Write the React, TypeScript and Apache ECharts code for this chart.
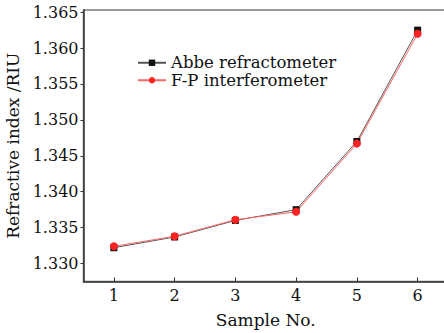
import { useEffect, useRef } from "react";
import * as echarts from "echarts";

const samples = [1, 2, 3, 4, 5, 6];
const abbe = [1.3322, 1.3337, 1.336, 1.3375, 1.347, 1.3625];
const fp = [1.3324, 1.3338, 1.3361, 1.3372, 1.3467, 1.362];
const yTicks = [1.33, 1.335, 1.34, 1.345, 1.35, 1.355, 1.36, 1.365];
const xTicks = [1, 2, 3, 4, 5, 6];

const FONT = "DejaVu Serif";

export default function App() {
  const ref = useRef<HTMLDivElement>(null);
  useEffect(() => {
    document.body.style.margin = "0";
    const chart = echarts.init(ref.current!, null, { renderer: "svg" });
    chart.setOption({
      animation: false,
      backgroundColor: "#ffffff",
      textStyle: { fontFamily: FONT },
      grid: {
        left: 83.5,
        right: 4,
        top: 10,
        bottom: 333 - 281.5,
        show: true,
        borderColor: "#777",
        borderWidth: 1.5,
        backgroundColor: "transparent",
        outerBoundsMode: "none",
        containLabel: false,
      },
      legend: {
        orient: "vertical",
        left: 132,
        top: 49,
        itemWidth: 28,
        itemHeight: 8,
        itemGap: 0,
        textStyle: { fontFamily: FONT, fontSize: 16.5, color: "#111", lineHeight: 17.5 },
        data: ["Abbe refractometer", "F-P interferometer"],
      },
      xAxis: {
        type: "value",
        min: 0.5,
        max: 6.5,
        name: "Sample No.",
        nameLocation: "middle",
        nameGap: 30,
        nameTextStyle: { fontFamily: FONT, fontSize: 17, color: "#111" },
        axisLine: { lineStyle: { color: "#333", width: 1.5 } },
        axisTick: { inside: true, length: 4, customValues: xTicks, lineStyle: { color: "#333" } },
        axisLabel: {
          customValues: xTicks,
          fontFamily: FONT,
          fontSize: 16,
          color: "#111",
          margin: 6,
          formatter: (v: number) => String(v),
        },
        splitLine: { show: false },
      },
      yAxis: {
        type: "value",
        min: 1.3275,
        max: 1.3653,
        name: "Refractive index /RIU",
        nameLocation: "middle",
        nameGap: 53,
        nameTextStyle: { fontFamily: FONT, fontSize: 17, color: "#111" },
        axisLine: { show: true, lineStyle: { color: "#333", width: 1.5 } },
        axisTick: { show: true, inside: false, length: 3, customValues: yTicks, lineStyle: { color: "#333" } },
        axisLabel: {
          customValues: yTicks,
          fontFamily: FONT,
          fontSize: 16,
          color: "#111",
          margin: 5,
          formatter: (v: number) => v.toFixed(3),
        },
        splitLine: { show: false },
      },
      series: [
        {
          name: "Abbe refractometer",
          type: "line",
          data: samples.map((s, i) => [s, abbe[i]]),
          symbol: "rect",
          symbolSize: 7,
          itemStyle: { color: "#111" },
          lineStyle: { color: "#555", width: 1 },
        },
        {
          name: "F-P interferometer",
          type: "line",
          data: samples.map((s, i) => [s, fp[i]]),
          symbol: "circle",
          symbolSize: 8,
          itemStyle: { color: "#f22" },
          lineStyle: { color: "#f66", width: 1 },
        },
      ],
    });
    return () => chart.dispose();
  }, []);
  return (
    <div style={{ width: 444, height: 333, overflow: "hidden" }}>
      <div ref={ref} style={{ width: 452, height: 333 }} />
    </div>
  );
}
